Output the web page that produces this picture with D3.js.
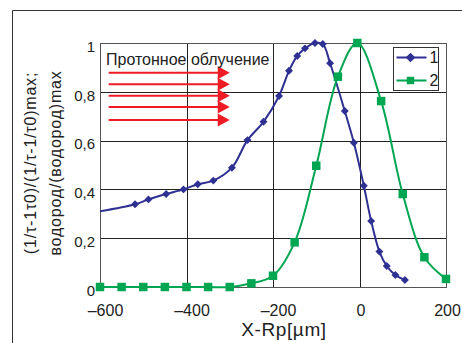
<!DOCTYPE html>
<html>
<head>
<meta charset="utf-8">
<script src="https://cdn.jsdelivr.net/npm/d3@7"></script>
<style>
  body { margin: 0; background: #fff; }
  svg { display: block; font-family: "Liberation Sans", Arial, sans-serif; }
</style>
</head>
<body>
<div id="chart"></div>
<script>
// series 1 (blue diamonds) - first point lies left of the axis, line gets clipped there
const xs1 = [-640, -519, -488, -447, -407, -374, -338, -295, -259, -222, -186, -163, -144, -126, -103, -85, -68, -34, -13, 10, 27, 46, 63, 83, 105];
const ys1 = [0.298, 0.339, 0.359, 0.381, 0.400, 0.421, 0.436, 0.489, 0.602, 0.677, 0.783, 0.886, 0.947, 0.978, 1.0, 0.996, 0.917, 0.721, 0.591, 0.415, 0.270, 0.145, 0.086, 0.049, 0.029];
// series 2 (green squares)
const xs2 = [-600, -550, -500, -450, -400, -350, -300, -250, -200, -150, -100, -50, -5, 50, 100, 150, 200];
const ys2 = [0, 0, 0, 0, 0, 0, 0, 0.015, 0.046, 0.183, 0.497, 0.862, 1.0, 0.762, 0.381, 0.122, 0.033];

const seriesNames = ["1", "2"];
const xTicks = [-600, -400, -200, 0, 200];
const yTicks = [0, 0.2, 0.4, 0.6, 0.8, 1];

// the "proton irradiation" arrows, in data units
const arrowYs = [0.878, 0.831, 0.784, 0.738, 0.684];
const arrowFrom = -580;
const arrowTo = -300;
const arrowLabel = "Протонное облучение";

const width = 462, height = 343;
const margin = {top: 43, right: 16, bottom: 56, left: 100};

const svg = d3.select("#chart")
  .append("svg")
    .attr("width", width)
    .attr("height", height);

// outer frame (only left and top edges are in view)
svg.append("path")
  .attr("d", `M12.5,${height} V10.5 H${width}`)
  .attr("fill", "none")
  .attr("stroke", "#333")
  .attr("stroke-width", 1);

const x = d3.scaleLinear().domain([-600, 200]).range([margin.left, width - margin.right]);
const y = d3.scaleLinear().domain([0, 1]).range([height - margin.bottom, margin.top]);

const loc = d3.formatLocale({decimal: ",", thousands: " ", grouping: [3], currency: ["", ""], minus: "–"});
const fmtY = loc.format("~g");
const fmtX = loc.format("d");

// grid
svg.append("g")
  .selectAll("line.gx")
  .data(xTicks.slice(1, -1))
  .join("line")
    .attr("x1", d => Math.round(x(d)) + 0.5)
    .attr("x2", d => Math.round(x(d)) + 0.5)
    .attr("y1", y(0))
    .attr("y2", y(1))
    .attr("stroke", "#222");

svg.append("g")
  .selectAll("line.gy")
  .data(yTicks.slice(1, -1))
  .join("line")
    .attr("x1", x(-600))
    .attr("x2", x(200))
    .attr("y1", d => Math.round(y(d)) + 0.5)
    .attr("y2", d => Math.round(y(d)) + 0.5)
    .attr("stroke", "#222");

// plot border
svg.append("rect")
  .attr("x", x(-600) + 0.5)
  .attr("y", Math.round(y(1)) + 0.5)
  .attr("width", x(200) - x(-600))
  .attr("height", y(0) - y(1))
  .attr("fill", "none")
  .attr("stroke", "#555");

// axes - labels only
const yAxis = svg.append("g")
  .attr("transform", `translate(${x(-600)},0)`)
  .call(d3.axisLeft(y).tickValues(yTicks).tickFormat(fmtY).tickSize(0).tickPadding(5));
yAxis.select(".domain").remove();
yAxis.selectAll("text")
  .attr("font-size", 15)
  .attr("font-family", "Liberation Sans, Arial, sans-serif")
  .attr("fill", "#222")
  .attr("dy", "0.55em");

const xAxis = svg.append("g")
  .attr("transform", `translate(0,${y(0)})`)
  .call(d3.axisBottom(x).tickValues(xTicks).tickFormat(fmtX).tickSize(0).tickPadding(18));
xAxis.select(".domain").remove();
xAxis.selectAll("text")
  .attr("font-size", 16)
  .attr("font-family", "Liberation Sans, Arial, sans-serif")
  .attr("fill", "#222")
  .attr("dx", d => d < 0 ? 5 : 1);

// axis titles
svg.append("text")
  .attr("x", 284)
  .attr("y", 336)
  .attr("text-anchor", "middle")
  .attr("font-size", 19)
  .attr("letter-spacing", 0.6)
  .attr("fill", "#222")
  .text("X-Rp[µm]");

const yTitle = ["(1/τ-1τ0)/(1/τ-1/τ0)max;", "водород/(водород)max"];
svg.append("g")
  .selectAll("text")
  .data(yTitle)
  .join("text")
    .attr("transform", (d, i) => `translate(${30 + i * 25},163) rotate(-90)`)
    .attr("text-anchor", "middle")
    .attr("dominant-baseline", "central")
    .attr("font-size", 16)
    .attr("letter-spacing", 0.8)
    .attr("fill", "#222")
    .text(d => d);

// clip for the lines
svg.append("clipPath")
  .attr("id", "plotClip")
  .append("rect")
    .attr("x", x(-600))
    .attr("y", 0)
    .attr("width", x(200) - x(-600))
    .attr("height", height);

const line = d3.line()
  .x(d => x(d[0]))
  .y(d => y(d[1]))
  .curve(d3.curveCatmullRom.alpha(0.5));

const s1 = d3.zip(xs1, ys1);
const s2 = d3.zip(xs2, ys2);
const blue = "#2E3192", green = "#00A651", red = "#EE1C25";

svg.append("path")
  .attr("d", line(s1))
  .attr("clip-path", "url(#plotClip)")
  .attr("fill", "none")
  .attr("stroke", blue)
  .attr("stroke-width", 2);

svg.append("path")
  .attr("d", line(s2))
  .attr("clip-path", "url(#plotClip)")
  .attr("fill", "none")
  .attr("stroke", green)
  .attr("stroke-width", 2);

const diamond = d3.symbol().type(d3.symbolDiamond2).size(40);
const square = d3.symbol().type(d3.symbolSquare).size(72);
const inDomain = d => d[0] >= -600 && d[0] <= 200;

svg.append("g")
  .selectAll("path")
  .data(s1.filter(inDomain))
  .join("path")
    .attr("transform", d => `translate(${x(d[0])},${y(d[1])})`)
    .attr("d", diamond)
    .attr("fill", blue);

svg.append("g")
  .selectAll("path")
  .data(s2.filter(inDomain))
  .join("path")
    .attr("transform", d => `translate(${x(d[0])},${y(d[1])})`)
    .attr("d", square)
    .attr("fill", green);

// arrows
const arrows = svg.append("g");
arrowYs.forEach(v => {
  const yy = y(v);
  const x0 = x(arrowFrom), x1 = x(arrowTo);
  arrows.append("line")
    .attr("x1", x0).attr("x2", x1 - 10)
    .attr("y1", yy).attr("y2", yy)
    .attr("stroke", red)
    .attr("stroke-width", 2);
  arrows.append("path")
    .attr("d", `M${x1 - 12},${yy - 6.5} L${x1},${yy} L${x1 - 12},${yy + 6.5} Z`)
    .attr("fill", red);
});

svg.append("text")
  .attr("x", 106)
  .attr("y", 65)
  .attr("font-size", 16)
  .attr("fill", "#222")
  .text(arrowLabel);

// legend
const legend = svg.append("g").attr("transform", "translate(393.5,47.5)");
legend.append("rect")
  .attr("width", 45)
  .attr("height", 43)
  .attr("fill", "#fff")
  .attr("stroke", "#333");

const legItems = legend.selectAll("g")
  .data(seriesNames)
  .join("g")
    .attr("transform", (d, i) => `translate(0,${10 + i * 23})`);

legItems.append("line")
  .attr("x1", 3).attr("x2", 33)
  .attr("stroke", (d, i) => i === 0 ? blue : green)
  .attr("stroke-width", 2);

legItems.append("path")
  .attr("transform", "translate(17,0)")
  .attr("d", (d, i) => i === 0 ? d3.symbol().type(d3.symbolDiamond2).size(60)() : d3.symbol().type(d3.symbolSquare).size(56)())
  .attr("fill", (d, i) => i === 0 ? blue : green);

legItems.append("text")
  .attr("x", 36)
  .attr("dy", "0.36em")
  .attr("font-size", 16)
  .attr("fill", "#222")
  .text(d => d);
</script>
</body>
</html>
